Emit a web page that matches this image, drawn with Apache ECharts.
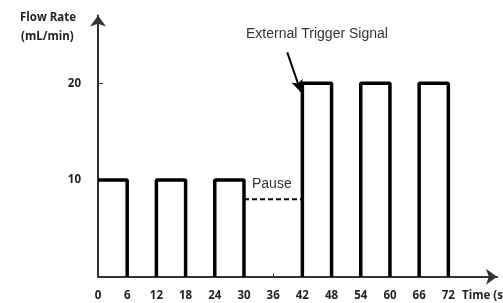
<!DOCTYPE html>
<html>
<head>
<meta charset="utf-8">
<script src="https://cdn.jsdelivr.net/npm/echarts@6/dist/echarts.min.js"></script>
<style>
html,body{margin:0;padding:0;background:#fff;}
#chart{width:503px;height:303px;}
</style>
</head>
<body>
<div id="chart"></div>
<script>
// pulses: [start, end, level]
var pulses = [[0, 6, 10], [12, 18, 10], [24, 30, 10], [42, 48, 20], [54, 60, 20], [66, 72, 20]];
var pauseX = [30, 42];
var pauseLevel = 8;
var xTicks = [0, 6, 12, 18, 24, 30, 36, 42, 48, 54, 60, 66, 72];
var yTicks = [10, 20];
// arrow from the label down to the first 20 pulse
var triggerArrow = [[38.9, 23.2], [41.7, 19.1]];

var wave = [];
pulses.forEach(function (p) {
	if (p[0] !== 0) wave.push([p[0], 0]);
	wave.push([p[0], p[2]]);
	wave.push([p[1], p[2]]);
	wave.push([p[1], 0]);
	wave.push([p[1], '-']);
});

var myChart = echarts.init(document.getElementById('chart'));
var option = {
	animation: false,
	grid: { left: 98, right: 6, top: 15.6, bottom: 26.3, outerBoundsMode: 'none', containLabel: false },
	xAxis: {
		type: 'value', min: 0, max: 82, interval: 6,
		splitLine: { show: false },
		axisLine: { lineStyle: { color: '#333', width: 2 }, symbol: ['none', 'arrow'], symbolSize: [12, 11] },
		axisTick: { inside: true, length: 3, customValues: xTicks, lineStyle: { color: '#333' } },
		axisLabel: { customValues: xTicks, margin: 13, color: '#222', fontFamily: 'Open Sans', fontWeight: 'bold', fontSize: 11.5 },
		name: 'Time (s)', nameLocation: 'end', nameGap: -35,
		nameTextStyle: { color: '#222', fontFamily: 'Open Sans', fontWeight: 'bold', fontSize: 11.5, align: 'left', verticalAlign: 'top', padding: [13, 0, 0, 0] }
	},
	yAxis: {
		type: 'value', min: 0, max: 27,
		splitLine: { show: false },
		axisLine: { lineStyle: { color: '#333', width: 2 }, symbol: ['none', 'arrow'], symbolSize: [12, 11] },
		axisTick: { inside: true, length: 5, customValues: yTicks, lineStyle: { color: '#333' } },
		axisLabel: { customValues: yTicks, margin: 17, color: '#222', fontFamily: 'Open Sans', fontWeight: 'bold', fontSize: 11.5 }
	},
	graphic: [
		{ type: 'text', left: 20, top: 12, style: { text: 'Flow Rate', fill: '#222', font: 'bold 11.5px "Open Sans"' } },
		{ type: 'text', left: 21, top: 31, style: { text: '(mL/min)', fill: '#222', font: 'bold 11.5px "Open Sans"' } },
		{ type: 'text', left: 246, top: 27, style: { text: 'External Trigger Signal', fill: '#333', font: '14px "Liberation Sans"' } },
		{ type: 'text', left: 252, top: 177, style: { text: 'Pause', fill: '#333', font: '14px "Liberation Sans"' } }
	],
	series: [
		{
			type: 'line', data: wave, showSymbol: false, symbol: 'none', connectNulls: false,
			lineStyle: { color: '#000', width: 3.5 },
			markLine: {
				silent: true, symbol: ['none', 'arrow'], symbolSize: [9, 12],
				lineStyle: { color: '#000', width: 2, type: 'solid' },
				label: { show: false },
				data: [[{ coord: triggerArrow[0] }, { coord: triggerArrow[1] }]]
			}
		},
		{
			type: 'line', data: [[pauseX[0], pauseLevel], [pauseX[1], pauseLevel]], showSymbol: false, symbol: 'none',
			lineStyle: { color: '#000', width: 2, type: [5, 3] }
		}
	]
};
myChart.setOption(option);
</script>
</body>
</html>
